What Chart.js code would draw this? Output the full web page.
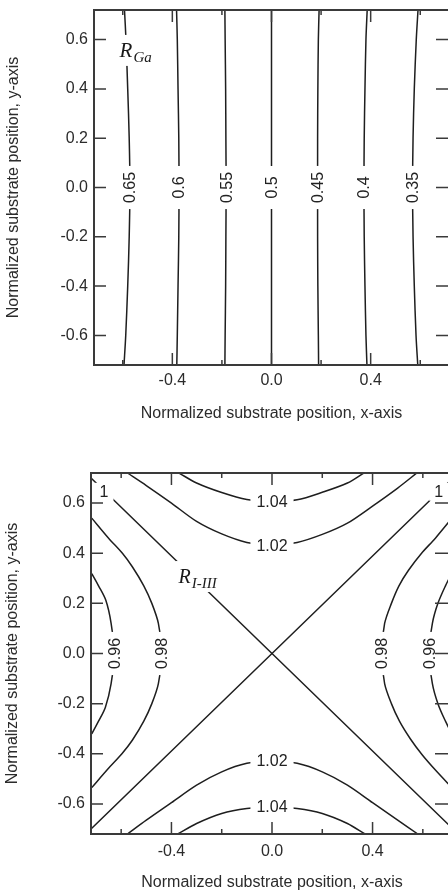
<!doctype html>
<html>
<head>
<title>R_Ga and R_I-III contour maps</title>
<script src="https://cdn.jsdelivr.net/npm/chart.js"></script>
<style>
  html, body { margin: 0; padding: 0; background: #fff; overflow: hidden; }
  body { width: 448px; height: 891px; position: relative; }
  canvas { position: absolute; left: 0; }
  #gaChart { top: 0; }
  #riChart { top: 440px; }
</style>
</head>
<body>
<canvas id="gaChart" width="470" height="430"></canvas>
<canvas id="riChart" width="480" height="470"></canvas>
<script>
// axis text
const xTitle = 'Normalized substrate position, x-axis';
const yTitle = 'Normalized substrate position, y-axis';
const xTickLabels = ['-0.4', '0.0', '0.4'];
const yTickLabels = ['-0.6', '-0.4', '-0.2', '0.0', '0.2', '0.4', '0.6'];

// top map: R_Ga, near-vertical contours sampled at gaY
const gaLevels = ['0.65', '0.6', '0.55', '0.5', '0.45', '0.4', '0.35'];
const gaY = [-0.72, -0.6, -0.4, -0.2, 0, 0.2, 0.4, 0.6, 0.72];
const gaX = [
  [-0.595, -0.588, -0.580, -0.574, -0.571, -0.574, -0.580, -0.587, -0.593],
  [-0.382, -0.380, -0.377, -0.374, -0.373, -0.374, -0.377, -0.380, -0.383],
  [-0.188, -0.187, -0.185, -0.184, -0.183, -0.184, -0.185, -0.187, -0.188],
  [0, 0, 0, 0, 0, 0, 0, 0, 0],
  [0.190, 0.189, 0.187, 0.186, 0.186, 0.186, 0.187, 0.189, 0.192],
  [0.385, 0.381, 0.377, 0.374, 0.373, 0.374, 0.377, 0.381, 0.386],
  [0.590, 0.583, 0.576, 0.571, 0.569, 0.571, 0.576, 0.584, 0.591]
];
const gaTag = [-0.55, 0.55];

// bottom map: R_I-III, saddle
const ri104Top = [[-0.37, 0.72], [-0.3, 0.68], [-0.2, 0.642], [-0.1, 0.614], [0, 0.605], [0.1, 0.613], [0.2, 0.643], [0.3, 0.68], [0.365, 0.72]];
const ri102Top = [[-0.575, 0.72], [-0.5, 0.67], [-0.4, 0.6], [-0.3, 0.527], [-0.2, 0.477], [-0.1, 0.443], [0, 0.432], [0.1, 0.443], [0.2, 0.475], [0.3, 0.52], [0.4, 0.588], [0.5, 0.66], [0.576, 0.72]];
const ri102Bot = [[-0.575, -0.72], [-0.5, -0.665], [-0.4, -0.595], [-0.3, -0.525], [-0.2, -0.472], [-0.1, -0.438], [0, -0.428], [0.1, -0.438], [0.2, -0.472], [0.3, -0.525], [0.4, -0.595], [0.5, -0.665], [0.58, -0.72]];
const ri104Bot = [[-0.375, -0.72], [-0.3, -0.678], [-0.2, -0.638], [-0.1, -0.618], [0, -0.611], [0.1, -0.618], [0.2, -0.638], [0.3, -0.678], [0.37, -0.72]];
const ri098Left = [[-0.717, 0.54], [-0.65, 0.46], [-0.595, 0.4], [-0.555, 0.345], [-0.51, 0.27], [-0.478, 0.2], [-0.452, 0.12], [-0.44, 0], [-0.452, -0.12], [-0.478, -0.2], [-0.51, -0.27], [-0.555, -0.345], [-0.597, -0.4], [-0.652, -0.46], [-0.717, -0.535]];
const ri096Left = [[-0.717, 0.319], [-0.69, 0.27], [-0.661, 0.212], [-0.64, 0.12], [-0.628, 0], [-0.64, -0.12], [-0.663, -0.215], [-0.69, -0.27], [-0.717, -0.321]];
const ri098Right = [[0.72, 0.545], [0.65, 0.46], [0.595, 0.4], [0.543, 0.332], [0.505, 0.27], [0.475, 0.2], [0.448, 0.12], [0.436, 0], [0.448, -0.12], [0.475, -0.2], [0.507, -0.27], [0.55, -0.34], [0.598, -0.405], [0.65, -0.465], [0.72, -0.54]];
const ri096Right = [[0.72, 0.33], [0.69, 0.27], [0.66, 0.2], [0.638, 0.12], [0.625, 0], [0.638, -0.12], [0.66, -0.2], [0.69, -0.27], [0.72, -0.33]];
const ri1Up = [[-0.72, -0.70], [0, 0], [0.72, 0.70]];
const ri1Down = [[-0.72, 0.70], [0, 0], [0.72, -0.70]];
const riLabels = [
  ['1.04', 0, 0.605, 0], ['1.02', 0, 0.432, 0], ['1.02', 0, -0.428, 0], ['1.04', 0, -0.611, 0],
  ['0.98', -0.44, 0, -90], ['0.96', -0.628, 0, -90], ['0.98', 0.436, 0, -90], ['0.96', 0.625, 0, -90],
  ['1', -0.668, 0.645, 0], ['1', 0.663, 0.645, 0]
];
const riTag = [-0.298, 0.301];

const sans = '"Liberation Sans", Arial, sans-serif';
const serif = '"Liberation Serif", "Times New Roman", serif';
Chart.defaults.font.family = sans;
Chart.defaults.font.size = 16;
Chart.defaults.color = '#2b2b2b';

function fmt(v) { return Math.abs(v) < 1e-9 ? '0.0' : v.toFixed(1); }

function line(pts, tension) {
  return {
    data: pts.map(p => ({ x: p[0], y: p[1] })),
    showLine: true, pointRadius: 0, borderColor: '#1e1e1e', borderWidth: 1.5,
    tension: tension
  };
}

function axes(b) {
  return {
    x: {
      type: 'linear', min: -b.xr, max: b.xr,
      ticks: { stepSize: 0.2, includeBounds: false, padding: b.xTickPad, maxRotation: 0, autoSkip: false,
        callback: v => xTickLabels.includes(fmt(v)) ? fmt(v) : '' },
      grid: { display: false, drawTicks: false }, border: { display: false },
      title: { display: true, text: xTitle, padding: { top: 0, bottom: b.xTitlePad } },
      afterFit: s => { s.height = b.xH; s.paddingLeft = 0; s.paddingRight = 0; }
    },
    y: {
      type: 'linear', min: -0.72, max: 0.72,
      ticks: { stepSize: 0.2, includeBounds: false, padding: 6, autoSkip: false,
        callback: v => yTickLabels.includes(fmt(v)) ? fmt(v) : '' },
      grid: { display: false, drawTicks: false }, border: { display: false },
      title: { display: true, text: yTitle, padding: { top: b.yTitlePad, bottom: 0 } },
      afterFit: s => { s.width = b.yW; s.paddingTop = 0; s.paddingBottom = 0; }
    }
  };
}

// contour labels (knocked out of the lines), R tag, frame and inward ticks
const deco = {
  id: 'deco',
  afterDatasetsDraw(chart, args, o) {
    const { ctx, chartArea: a, scales: { x, y } } = chart;
    ctx.save();
    ctx.font = '16px ' + sans;
    ctx.textAlign = 'center';
    ctx.textBaseline = 'middle';
    o.labels.forEach(([text, vx, vy, rot]) => {
      const px = x.getPixelForValue(vx), py = y.getPixelForValue(vy);
      const w = ctx.measureText(text).width;
      const len = text.length > 1 ? Math.max(w + 12, 43) : w + 10;
      ctx.save();
      ctx.translate(px, py);
      ctx.rotate(rot * Math.PI / 180);
      ctx.fillStyle = '#fff';
      ctx.fillRect(-len / 2, -9, len, 18);
      ctx.fillStyle = '#222';
      ctx.fillText(text, 0, 1);
      ctx.restore();
    });

    // italic R with subscript
    const t = o.tag;
    const tx = x.getPixelForValue(t.at[0]), ty = y.getPixelForValue(t.at[1]);
    ctx.textAlign = 'left';
    ctx.textBaseline = 'alphabetic';
    ctx.font = 'italic ' + t.size + 'px ' + serif;
    const rw = ctx.measureText('R').width;
    ctx.font = 'italic 15px ' + serif;
    const sw = ctx.measureText(t.sub).width;
    const x0 = tx - (rw + sw) / 2;
    ctx.fillStyle = '#fff';
    ctx.fillRect(x0 - 3, ty - 17, rw + sw + 6, 31);
    ctx.fillStyle = '#1a1a1a';
    ctx.font = 'italic ' + t.size + 'px ' + serif;
    ctx.fillText('R', x0, ty + 5);
    ctx.font = 'italic 15px ' + serif;
    ctx.fillText(t.sub, x0 + rw + 1, ty + 10);

    // ticks pointing into the plot
    ctx.strokeStyle = '#3a3a3a';
    ctx.lineWidth = 1.5;
    ctx.beginPath();
    x.ticks.forEach(k => {
      const px = x.getPixelForValue(k.value);
      const len = xTickLabels.includes(fmt(k.value)) ? 12 : 5;
      ctx.moveTo(px, a.bottom); ctx.lineTo(px, a.bottom - len);
      ctx.moveTo(px, a.top); ctx.lineTo(px, a.top + len);
    });
    y.ticks.forEach(k => {
      const py = y.getPixelForValue(k.value);
      ctx.moveTo(a.left, py); ctx.lineTo(a.left + 12, py);
      ctx.moveTo(a.right, py); ctx.lineTo(a.right - o.rightTick, py);
    });
    ctx.stroke();
    ctx.lineWidth = 2;
    ctx.strokeRect(a.left, a.top, a.right - a.left, a.bottom - a.top);
    ctx.restore();
  }
};

const common = {
  responsive: false,
  animation: false,
  events: []
};

new Chart(document.getElementById('gaChart'), {
  type: 'scatter',
  data: {
    datasets: gaLevels.map((lv, i) => line(gaY.map((yv, j) => [gaX[i][j], yv]), 0.3))
  },
  options: Object.assign({}, common, {
    layout: { padding: { top: 10, right: 21, bottom: 0, left: 0 } },
    scales: axes({ xr: 0.716, xTickPad: 6, xTitlePad: 7, xH: 65, yW: 94, yTitlePad: 4 }),
    plugins: {
      legend: { display: false },
      tooltip: { enabled: false },
      deco: {
        labels: gaLevels.map((lv, i) => [lv, gaX[i][4], 0, -90]),
        tag: { at: gaTag, sub: 'Ga', size: 21 },
        rightTick: 13
      }
    }
  }),
  plugins: [deco]
});

new Chart(document.getElementById('riChart'), {
  type: 'scatter',
  data: {
    datasets: [ri104Top, ri102Top, ri102Bot, ri104Bot, ri098Left, ri096Left, ri098Right, ri096Right]
      .map(p => line(p, 0.3))
      .concat([line(ri1Up, 0), line(ri1Down, 0)])
  },
  options: Object.assign({}, common, {
    layout: { padding: { top: 33, right: 27, bottom: 0, left: 0 } },
    scales: axes({ xr: 0.72, xTickPad: 8, xTitlePad: 18, xH: 76, yW: 91, yTitlePad: 3 }),
    plugins: {
      legend: { display: false },
      tooltip: { enabled: false },
      deco: {
        labels: riLabels,
        tag: { at: riTag, sub: 'I-III', size: 20 },
        rightTick: 18
      }
    }
  }),
  plugins: [deco]
});
</script>
</body>
</html>
